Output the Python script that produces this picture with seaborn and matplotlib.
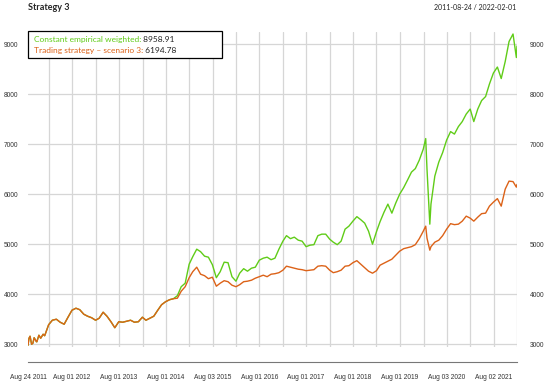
import matplotlib
matplotlib.use("Agg")
import matplotlib.pyplot as plt
import matplotlib.patches as mpatches
import matplotlib.dates as mdates
import pandas as pd
import seaborn as sns

# monthly readings (first of month), Sep 2011 .. Feb 2022
month_starts = pd.date_range("2011-09-01", "2022-02-01", freq="MS")

constant_monthly = [
    3120, 3020, 3050, 3120, 3170, 3390, 3480, 3500, 3440, 3400,
    3540, 3680, 3720, 3690, 3600, 3560, 3530, 3480, 3520, 3640,
    3560, 3450, 3330, 3450, 3440, 3460, 3480, 3440, 3450, 3540,
    3480, 3520, 3560, 3680, 3790, 3850, 3890, 3910, 3970, 4150,
    4220, 4600, 4750, 4900, 4850, 4760, 4740, 4590, 4330, 4450,
    4640, 4630, 4350, 4260, 4420, 4510, 4460, 4520, 4540, 4680,
    4720, 4740, 4690, 4720, 4900, 5060, 5170, 5110, 5140, 5080,
    5060, 4950, 4980, 4990, 5170, 5200, 5200, 5100, 5040, 4990,
    5060, 5300, 5360, 5460, 5550, 5490, 5420, 5260, 5000, 5250,
    5450, 5640, 5800, 5620, 5820, 6000, 6130, 6280, 6440, 6510,
    6680, 6900, 6500, 5800, 6360, 6640, 6830, 7080, 7250, 7200,
    7350, 7450, 7600, 7700, 7450, 7700, 7870, 7950, 8200, 8420,
    8540, 8310, 8650, 9050, 9200, 8958.91,
]

trading_monthly = [
    3120, 3020, 3050, 3120, 3170, 3390, 3480, 3500, 3440, 3400,
    3540, 3680, 3720, 3690, 3600, 3560, 3530, 3480, 3520, 3640,
    3560, 3450, 3330, 3450, 3440, 3460, 3480, 3440, 3450, 3540,
    3480, 3520, 3560, 3680, 3790, 3850, 3890, 3910, 3920, 4060,
    4150, 4330, 4450, 4540, 4400, 4370, 4310, 4340, 4160, 4220,
    4270, 4250, 4180, 4150, 4190, 4250, 4260, 4280, 4320, 4350,
    4380, 4350, 4400, 4410, 4430, 4480, 4560, 4540, 4520, 4500,
    4490, 4470, 4480, 4490, 4560, 4570, 4560, 4480, 4430, 4450,
    4480, 4560, 4570, 4630, 4670, 4600, 4530, 4460, 4420, 4470,
    4580, 4620, 4660, 4700, 4780, 4860, 4910, 4930, 4950, 4990,
    5110, 5260, 5120, 4950, 5040, 5080, 5170, 5300, 5410, 5390,
    5400, 5460, 5560, 5520, 5460, 5540, 5610, 5620, 5760, 5840,
    5910, 5760, 6100, 6260, 6250, 6194.78,
]

# start of series, the choppy first months and a few sharp turns
extra_dates = pd.to_datetime([
    "2011-08-24", "2011-09-09", "2011-09-21", "2011-10-11", "2011-10-29",
    "2011-11-17", "2011-12-20", "2020-02-20", "2020-03-23", "2022-01-27",
])
constant_extra = [2980, 3160, 3000, 3130, 3050, 3180, 3200, 7110, 5400, 8730]
trading_extra = [2980, 3160, 3000, 3130, 3050, 3180, 3200, 5360, 4880, 6140]

series_names = ["Constant empirical weighted", "Trading strategy \u2013 scenario 3"]
last_values = ["8958.91", "6194.78"]
colors = ["#60CC18", "#DC6218"]

label_dates = pd.to_datetime([
    "2011-08-24", "2012-08-01", "2013-08-01", "2014-08-01", "2015-08-03",
    "2016-08-01", "2017-08-01", "2018-08-01", "2019-08-01", "2020-08-03",
    "2021-08-02",
])
half_year_dates = pd.to_datetime([
    "2012-02-01", "2013-02-01", "2014-02-03", "2015-02-02", "2016-02-01",
    "2017-02-01", "2018-02-01", "2019-02-01", "2020-02-03", "2021-02-01",
    "2022-02-01",
])
y_ticks = [3000, 4000, 5000, 6000, 7000, 8000, 9000]


def build_frame():
    dates = list(extra_dates) + list(month_starts)
    frames = []
    for name, monthly, extra in zip(series_names,
                                    [constant_monthly, trading_monthly],
                                    [constant_extra, trading_extra]):
        frames.append(pd.DataFrame({
            "date": dates,
            "value": list(extra) + list(monthly),
            "series": name,
        }))
    return pd.concat(frames).sort_values("date")


sns.set_style("white")
plt.rcParams["font.family"] = ["Liberation Sans", "DejaVu Sans"]

W, H = 550, 385
fig = plt.figure(figsize=(W / 100, H / 100), dpi=100)
ax = fig.add_axes([28 / W, 1 - 347 / H, 489 / W, 315 / H])

df = build_frame()
sns.lineplot(data=df, x="date", y="value", hue="series", hue_order=series_names,
             palette=colors, linewidth=1.0, legend=False, ax=ax, zorder=3)

ax.set_xlim(pd.Timestamp("2011-08-24"), pd.Timestamp("2022-02-01"))
ax.set_ylim(2945, 9240)

for v in y_ticks:
    ax.axhline(v, color="#d6d6d6", linewidth=0.9, zorder=1)
for d in list(label_dates[1:]) + list(half_year_dates):
    ax.axvline(d, color="#d6d6d6", linewidth=0.9, zorder=1)

for side in ["left", "right", "top"]:
    ax.spines[side].set_visible(False)
ax.spines["bottom"].set_position(("outward", 10.8))
ax.spines["bottom"].set_color("#777777")
ax.spines["bottom"].set_linewidth(0.8)

ax.set_xticks(label_dates)
ax.set_xticks(half_year_dates, minor=True)
ax.xaxis.set_major_formatter(mdates.DateFormatter("%b %d %Y"))
ax.tick_params(axis="x", which="both", direction="out", length=2.5, width=0.7,
               color="#777777", labelsize=4.8, labelcolor="#333333", pad=6)

ax.set_yticks(y_ticks)
ax.tick_params(axis="y", length=0, labelsize=4.8, labelcolor="#333333", pad=7.2)
ax.set_xlabel("")
ax.set_ylabel("")

ax_r = ax.twinx()
ax_r.set_ylim(ax.get_ylim())
ax_r.set_yticks(y_ticks)
ax_r.tick_params(axis="y", length=0, labelsize=4.8, labelcolor="#333333", pad=9.4)
for side in ax_r.spines:
    ax_r.spines[side].set_visible(False)

fig.text(28 / W, 1 - 7 / H, "Strategy 3", fontsize=6.5, fontweight="bold",
         family=["Lato", "DejaVu Sans"], va="center", ha="left")
fig.text(516 / W, 1 - 7 / H, "2011-08-24 / 2022-02-01", fontsize=5,
         family=["Lato", "DejaVu Sans"], va="center", ha="right", color="#222222")

# legend box with coloured names and black last values
box = mpatches.Rectangle((28 / W, 1 - 58 / H), 194 / W, 27 / H,
                         transform=fig.transFigure, facecolor="white",
                         edgecolor="black", linewidth=0.9, zorder=10)
box.set_clip_on(False)
ax_r.add_artist(box)
for i, (name, val, col) in enumerate(zip(series_names, last_values, colors)):
    y = 1 - (39.5 + i * 11) / H
    t = ax_r.text(34 / W, y, name + ":", transform=fig.transFigure, color=col,
                  fontsize=6, family=["Lato", "DejaVu Sans"], va="center",
                  zorder=11, clip_on=False)
    ax_r.annotate(" " + val, xy=(1, 0), xycoords=t, va="bottom", ha="left",
                  fontsize=6, family=["Lato", "DejaVu Sans"], color="#222222",
                  zorder=11, annotation_clip=False)

fig.savefig("out.png", dpi=100)
